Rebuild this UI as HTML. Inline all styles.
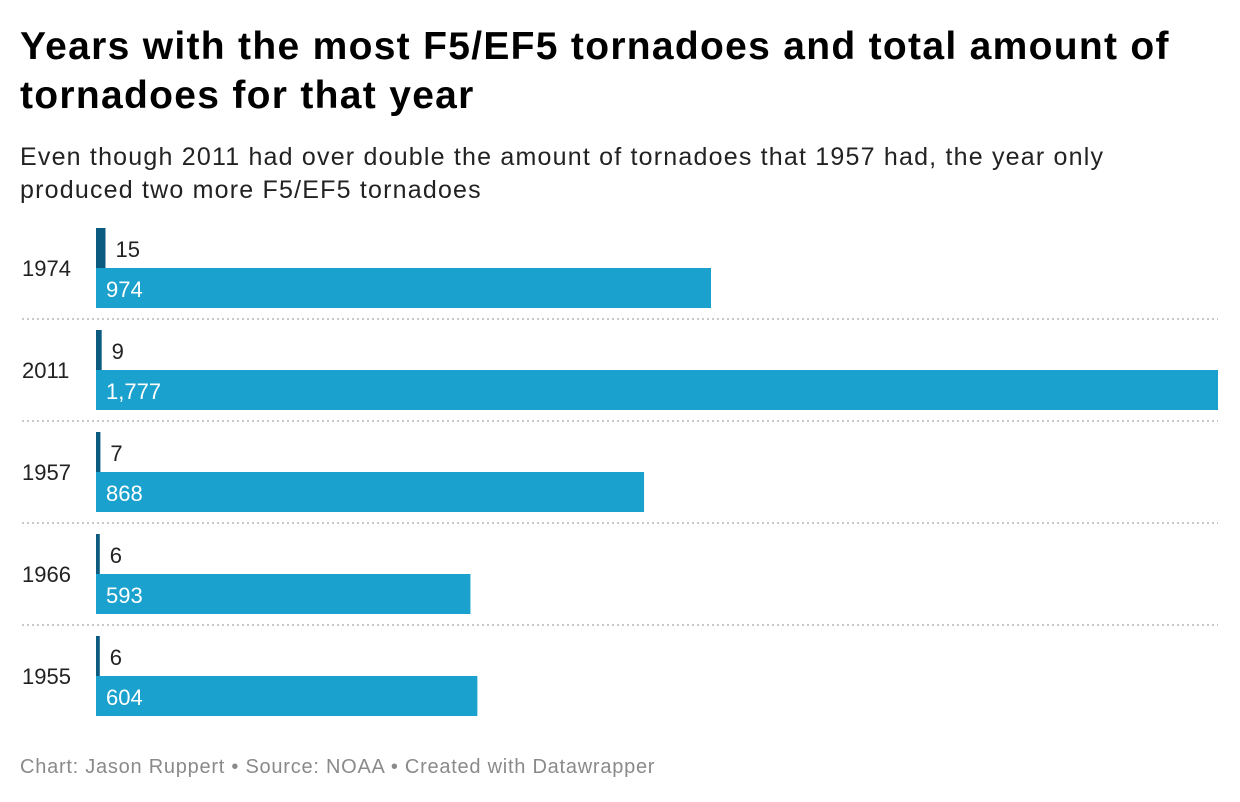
<!DOCTYPE html>
<html><head><meta charset="utf-8"><style>
body{margin:0;width:1240px;height:802px;background:#fff;font-family:"Liberation Sans",sans-serif;overflow:hidden;position:relative}
h1{position:absolute;left:20px;top:22px;margin:0;font-size:39px;letter-spacing:1.3px;line-height:49px;font-weight:bold;color:#000;width:1220px}
.sub{position:absolute;left:20px;top:141px;font-size:25px;letter-spacing:1.2px;line-height:33px;color:#222;width:1220px;white-space:nowrap}
.foot{position:absolute;left:20px;top:756px;font-size:20px;letter-spacing:0.75px;color:#8a8a8a}
</style></head><body>
<h1>Years with the most F5/EF5 tornadoes and total amount of<br>tornadoes for that year</h1>
<div class="sub">Even though 2011 had over double the amount of tornadoes that 1957 had, the year only<br>produced two more F5/EF5 tornadoes</div>
<svg id="chart" width="1240" height="802" style="position:absolute;left:0;top:0"></svg>
<div class="foot">Chart: Jason Ruppert • Source: NOAA • Created with Datawrapper</div>
<script>
const years=["1974","2011","1957","1966","1955"];
const f5Counts=[15,9,7,6,6];
const totalCounts=[974,1777,868,593,604];
const svg=document.getElementById('chart');
const NS='http://www.w3.org/2000/svg';
const x0=96,x1=1218,maxV=Math.max(...totalCounts);
function xs(v){return v/maxV*(x1-x0);}
function rowY(i){return 228+i*102;}
function mk(t,a){const e=document.createElementNS(NS,t);for(const k in a)e.setAttribute(k,a[k]);svg.appendChild(e);return e;}
years.forEach((y,i)=>{
  const top=rowY(i);
  const lab=mk('text',{x:22,y:top+48,'font-size':22,fill:'#222'});lab.textContent=y;
  
  
  const b1=mk('rect',{x:x0,y:top,width:Math.max(xs(f5Counts[i]),2),height:40,fill:'#0b5a80'});
  
  
  const t1=mk('text',{x:x0+Math.max(xs(f5Counts[i]),2)+10,y:top+29,'font-size':22,fill:'#222'});t1.textContent=f5Counts[i].toLocaleString('en-US');
  
  
  const b2=mk('rect',{x:x0,y:top+40,width:xs(totalCounts[i]),height:40,fill:'#1aa1cd'});
  
  
  const t2=mk('text',{x:x0+10,y:top+69,'font-size':22,fill:'#fff'});t2.textContent=totalCounts[i].toLocaleString('en-US');
  
  
  if(i<years.length-1){
    const l=mk('line',{x1:22,x2:1218,y1:top+91,y2:top+91,stroke:'#c8c8c8','stroke-width':2,'stroke-dasharray':'2 3'});
    
    
  }
});
</script>
</body></html>
